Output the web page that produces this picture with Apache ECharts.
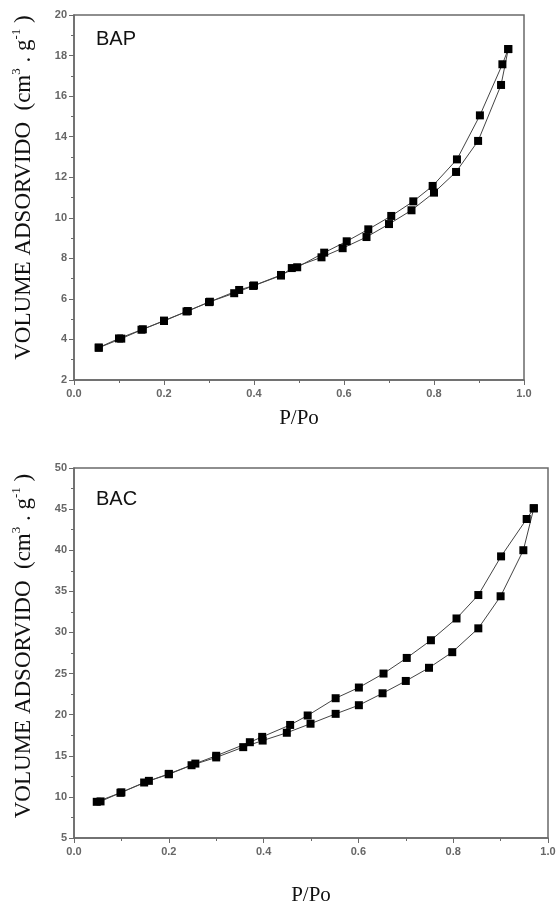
<!DOCTYPE html>
<html>
<head>
<meta charset="utf-8">
<script src="https://cdn.jsdelivr.net/npm/echarts@6/dist/echarts.min.js"></script>
<style>
  html, body { margin: 0; padding: 0; background: #fff; }
  #chart { width: 559px; height: 908px; }
</style>
</head>
<body>
<div id="chart"></div>
<script>
// BAP isotherm (top)
const bapAdsP = [0.055, 0.105, 0.153, 0.2, 0.253, 0.302, 0.356, 0.398, 0.46, 0.484, 0.55, 0.597, 0.65, 0.70, 0.75, 0.80, 0.849, 0.898, 0.949, 0.965];
const bapAdsV = [3.59, 4.04, 4.5, 4.93, 5.4, 5.86, 6.28, 6.64, 7.15, 7.52, 8.05, 8.5, 9.05, 9.69, 10.37, 11.24, 12.26, 13.79, 16.55, 18.32];
const bapDesP = [0.965, 0.952, 0.902, 0.851, 0.797, 0.754, 0.705, 0.654, 0.606, 0.556, 0.496, 0.46, 0.40, 0.367, 0.30, 0.25, 0.2, 0.15, 0.1, 0.055];
const bapDesV = [18.32, 17.57, 15.05, 12.88, 11.57, 10.81, 10.09, 9.43, 8.84, 8.28, 7.56, 7.18, 6.66, 6.44, 5.84, 5.38, 4.91, 4.48, 4.05, 3.6];

// BAC isotherm (bottom)
const bacAdsP = [0.048, 0.098, 0.148, 0.2, 0.248, 0.3, 0.357, 0.398, 0.449, 0.499, 0.552, 0.601, 0.651, 0.70, 0.749, 0.798, 0.853, 0.90, 0.948, 0.97];
const bacAdsV = [9.4, 10.5, 11.75, 12.75, 13.85, 14.8, 16.05, 16.85, 17.8, 18.9, 20.1, 21.15, 22.6, 24.1, 25.7, 27.6, 30.5, 34.4, 40.0, 45.1];
const bacDesP = [0.97, 0.955, 0.901, 0.853, 0.807, 0.753, 0.702, 0.653, 0.601, 0.552, 0.493, 0.456, 0.397, 0.371, 0.30, 0.256, 0.2, 0.158, 0.1, 0.056];
const bacDesV = [45.1, 43.8, 39.25, 34.55, 31.7, 29.05, 26.9, 25.0, 23.3, 22.0, 19.9, 18.75, 17.3, 16.65, 15.0, 14.05, 12.8, 11.95, 10.55, 9.45];

const xTicks = { min: 0, max: 1, interval: 0.2 };
const bapTicks = { min: 2, max: 20, interval: 2 };
const bacTicks = { min: 5, max: 50, interval: 5 };

const zip = (xs, ys) => xs.map((x, i) => [x, ys[i]]);

const axisGrey = '#6a6a6a';
const labelStyle = { color: '#666', fontSize: 11, fontFamily: 'Liberation Sans', fontWeight: 'bold' };

function xAxis(gridIndex, gap) {
  return {
    type: 'value', gridIndex,
    min: xTicks.min, max: xTicks.max, interval: xTicks.interval,
    name: 'P/Po', nameLocation: 'middle', nameGap: gap,
    nameTextStyle: { fontFamily: 'Liberation Serif', fontSize: 21, color: '#111' },
    axisLine: { show: true, lineStyle: { color: axisGrey, width: 1.5 } },
    axisTick: { show: true, length: 5, lineStyle: { color: axisGrey } },
    minorTick: { show: true, splitNumber: 2, length: 3, lineStyle: { color: axisGrey } },
    splitLine: { show: false },
    axisLabel: Object.assign({ margin: 8, formatter: v => v.toFixed(1) }, labelStyle)
  };
}

function yAxis(gridIndex, t, shift) {
  return {
    type: 'value', gridIndex,
    min: t.min, max: t.max, interval: t.interval,
    name: '{t|VOLUME ADSORVIDO  (cm}{s|3}{t| . g}{s|-1}{t| )}',
    nameLocation: 'middle', nameGap: 39, nameRotate: 90,
    nameTextStyle: {
      padding: [0, 0, 0, shift],
      rich: {
        t: { fontFamily: 'Liberation Serif', fontSize: 23, color: '#111', lineHeight: 25, verticalAlign: 'bottom' },
        s: { fontFamily: 'Liberation Serif', fontSize: 13, color: '#111', lineHeight: 25, verticalAlign: 'top' }
      }
    },
    axisLine: { show: true, lineStyle: { color: axisGrey, width: 1.5 } },
    axisTick: { show: true, length: 5, lineStyle: { color: axisGrey } },
    minorTick: { show: true, splitNumber: 2, length: 3, lineStyle: { color: axisGrey } },
    splitLine: { show: false },
    axisLabel: Object.assign({ margin: 7 }, labelStyle)
  };
}

function branch(xi, data) {
  return {
    type: 'line', xAxisIndex: xi, yAxisIndex: xi,
    data, symbol: 'rect', symbolSize: 8, showSymbol: true,
    itemStyle: { color: '#000' },
    lineStyle: { color: '#444', width: 1 },
    animation: false, z: 3
  };
}

const chart = echarts.init(document.getElementById('chart'));
chart.setOption({
  animation: false,
  backgroundColor: '#fff',
  title: [
    { text: 'BAP', left: 91, top: 24, textStyle: { fontFamily: 'Liberation Sans', fontSize: 20, fontWeight: 'normal', color: '#111' } },
    { text: 'BAC', left: 91, top: 484, textStyle: { fontFamily: 'Liberation Sans', fontSize: 20, fontWeight: 'normal', color: '#111' } }
  ],
  grid: [
    { left: 74, top: 15, width: 450, height: 365, containLabel: false, outerBoundsMode: 'none', show: true, borderColor: axisGrey, borderWidth: 1.5 },
    { left: 74, top: 468, width: 474, height: 370, containLabel: false, outerBoundsMode: 'none', show: true, borderColor: axisGrey, borderWidth: 1.5 }
  ],
  xAxis: [xAxis(0, 28), xAxis(1, 47)],
  yAxis: [yAxis(0, bapTicks, 20), yAxis(1, bacTicks, 14)],
  series: [
    branch(0, zip(bapAdsP, bapAdsV)),
    branch(0, zip(bapDesP, bapDesV)),
    branch(1, zip(bacAdsP, bacAdsV)),
    branch(1, zip(bacDesP, bacDesV))
  ]
});
</script>
</body>
</html>
